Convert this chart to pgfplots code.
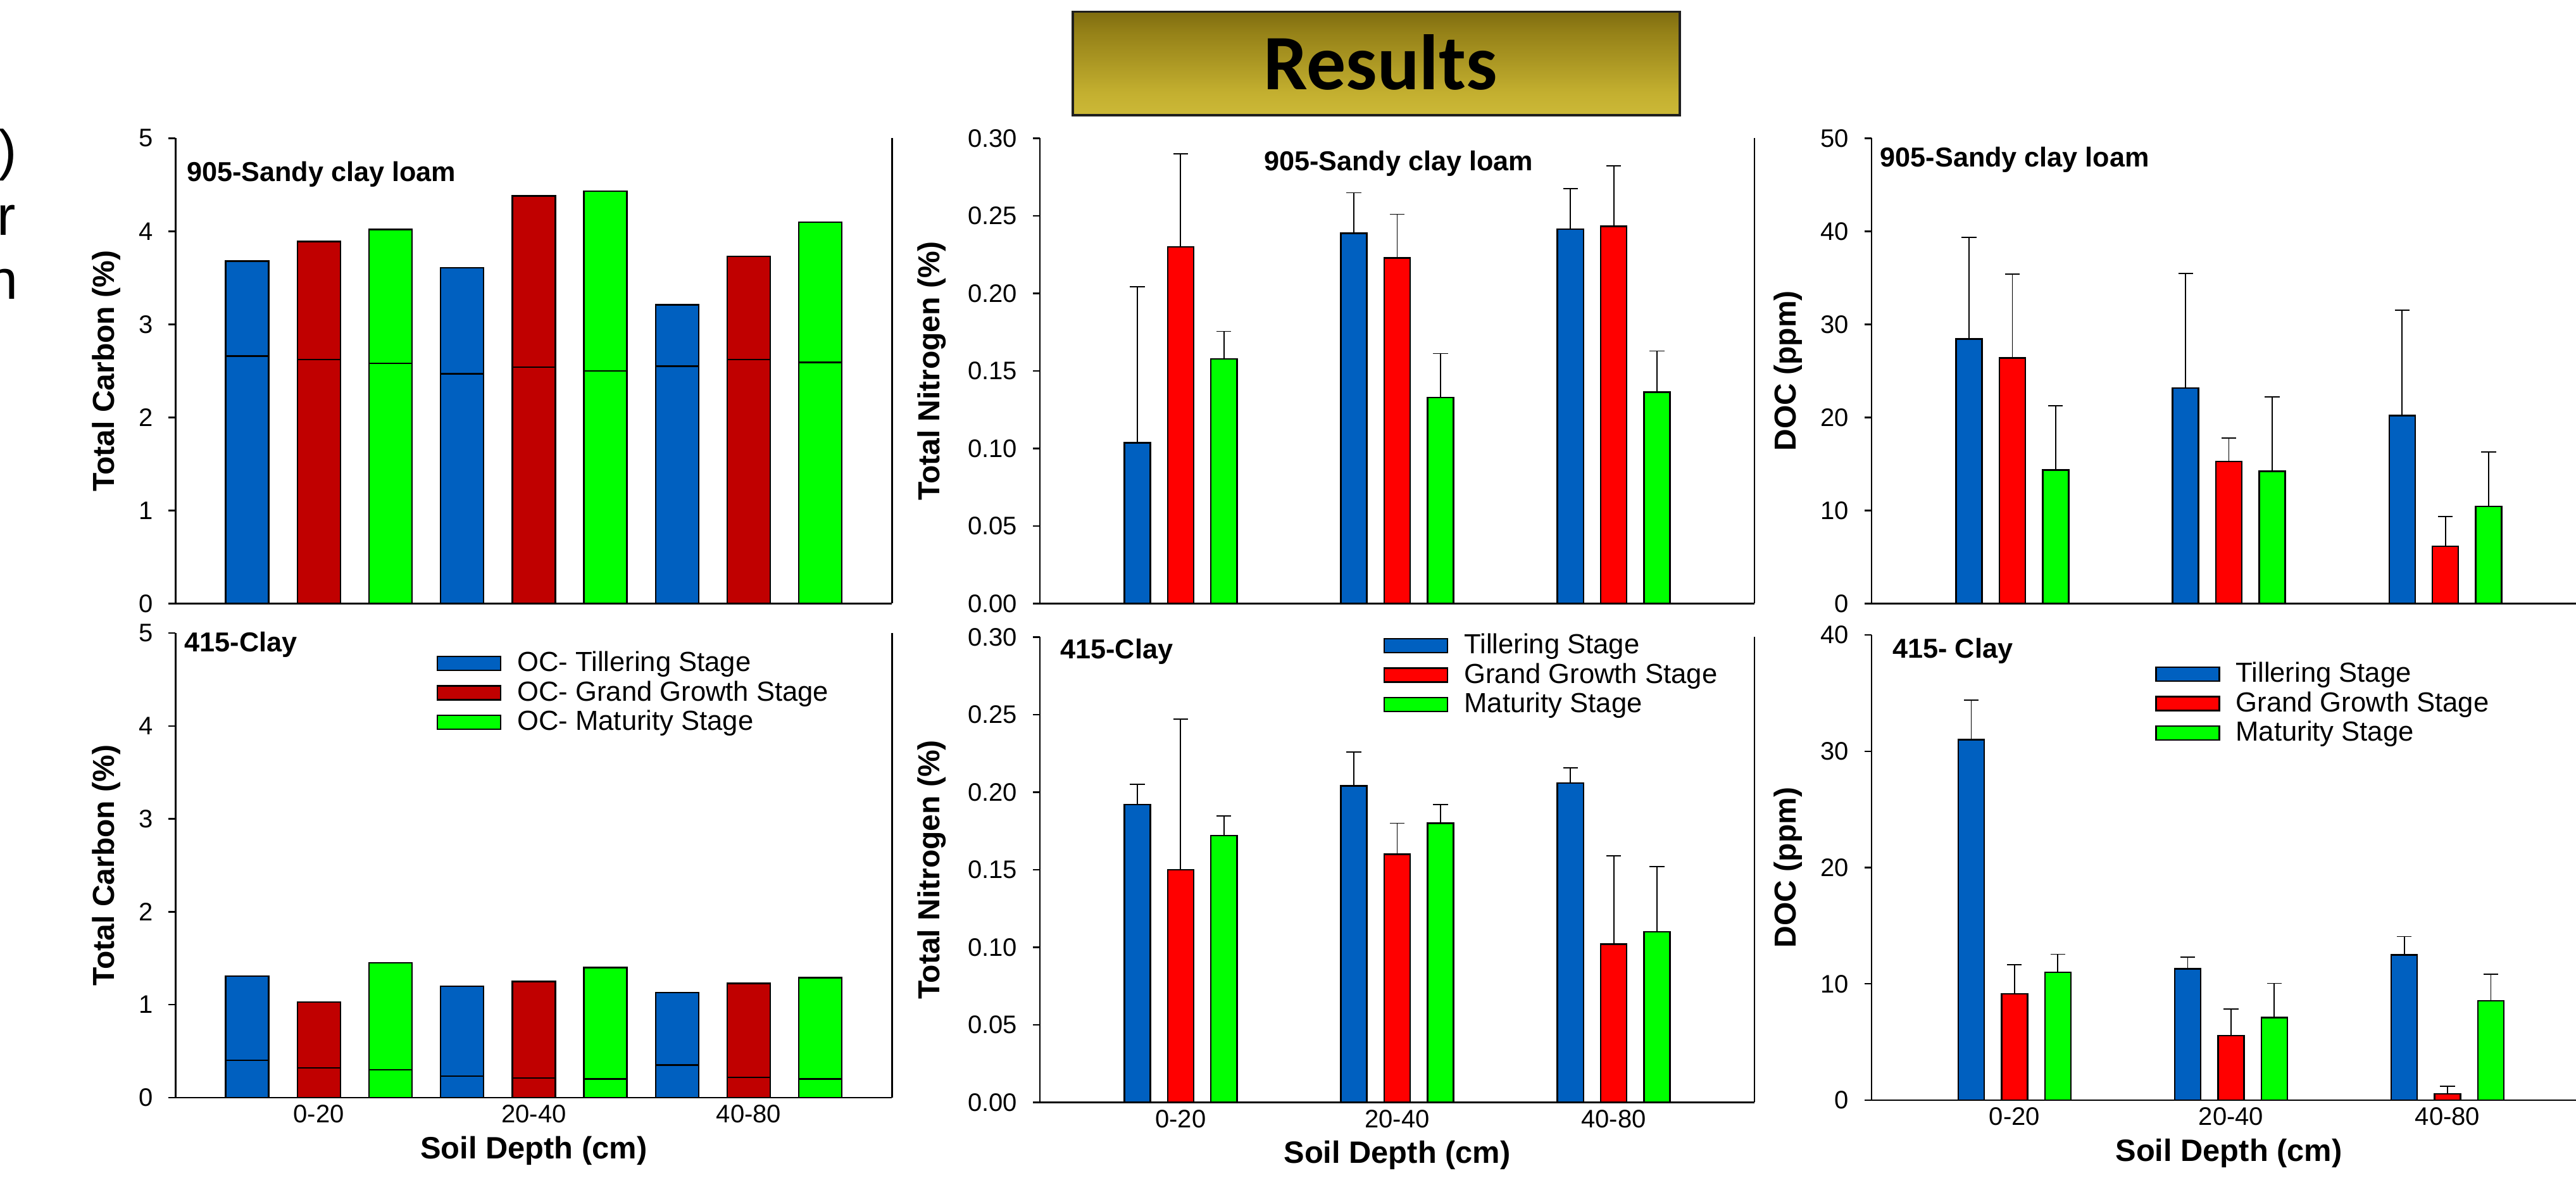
\documentclass[border=0pt]{standalone}
\usepackage{pgfplots}
\pgfplotsset{compat=1.18}
\usepackage{fontspec}
\setmainfont{Liberation Sans}
\newfontfamily\carlito{Carlito}
\definecolor{cblue}{RGB}{0,96,192}
\definecolor{cdred}{RGB}{192,0,0}
\definecolor{cred}{RGB}{255,0,0}
\definecolor{cgreen}{RGB}{0,255,0}
\definecolor{g0}{RGB}{216,197,66}
\definecolor{g1}{RGB}{196,176,48}
\definecolor{g2}{RGB}{150,130,24}
\definecolor{g3}{RGB}{108,90,8}
\definecolor{g4}{RGB}{160,140,40}
\pgfdeclareverticalshading{titlegrad}{100bp}{color(0bp)=(g1); color(8bp)=(g0); color(35bp)=(g1); color(65bp)=(g2); color(85bp)=(g3); color(93bp)=(g3); color(97bp)=(g4); color(100bp)=(g4)}
\pgfplotsset{
  panel/.style={
    scale only axis, height=183.75pt, width=282.25pt,
    anchor=south west,
    axis x line*=bottom, axis y line*=left,
    axis line style={line width=0.7pt, black},
    ymin=0, clip=false,
    tick align=outside,
    major tick length=2.75pt,
    ytick style={line width=0.6pt, black},
    xtick style={draw=none},
    /pgf/number format/assume math mode=true,
    yticklabel style={font=\fontsize{10}{12}\selectfont, anchor=east, inner sep=0pt, xshift=-6pt},
    xticklabel style={font=\fontsize{10}{12}\selectfont, anchor=north, inner sep=0pt},
    every axis y label/.style={rotate=90, anchor=center, font=\bfseries\fontsize{12}{14}\selectfont},
    every axis x label/.style={at={([yshift=-24pt]axis description cs:0.5,0)}, anchor=base, font=\bfseries\fontsize{12.2}{14}\selectfont},
    ybar,
  },
  leg/.style={
    legend style={draw=none, fill=none, inner sep=0pt, outer sep=0pt, row sep=2.2pt,
      cells={anchor=west}, nodes={inner sep=0pt, font=\fontsize{10.9}{12}\selectfont}},
    legend cell align=left,
    legend image code/.code={\draw[##1] (0pt,-2.75pt) rectangle (25pt,2.75pt); \path (31.25pt,0pt);},
  },
  err/.style={error bars/.cd, y dir=plus, y explicit,
    error bar style={line width=0.45pt, black},
    error mark options={rotate=90, black, line width=0.45pt, mark size=2.9pt}},
  cb/.style={fill=cblue, draw=black, line width=0.6pt},
  cdr/.style={fill=cdred, draw=black, line width=0.6pt},
  cr/.style={fill=cred, draw=black, line width=0.6pt},
  cg/.style={fill=cgreen, draw=black, line width=0.6pt},
  wide/.style={bar width=0.6, bar shift=0},
  narrow/.style={bar width=0.12, bar shift=#1},
}
\newcommand{\plab}{\bfseries\fontsize{10.8}{13}\selectfont}
\begin{document}
\begin{tikzpicture}
\path[use as bounding box] (0pt,0pt) rectangle (1017.5pt,-468pt);
\clip (0pt,0pt) rectangle (1017.5pt,-468pt);
\fill[white] (0pt,0pt) rectangle (1017.5pt,-468pt);

% title box
\fill[black!88] (423.25pt,-4.25pt) rectangle (664pt,-46pt);
\shade[shading=titlegrad] (424.25pt,-5.25pt) rectangle (663pt,-45pt);
\node[font=\carlito\bfseries\fontsize{31}{36}\selectfont, anchor=base, inner sep=0pt] at (545.25pt,-35.5pt) {Results};

% cropped slide text at the left edge
\node[anchor=base east, inner sep=0pt, font=\fontsize{22}{26}\selectfont] at (7pt,-67pt) {)};
\node[anchor=base east, inner sep=0pt, font=\fontsize{22}{26}\selectfont] at (6.5pt,-93pt) {r};
\node[anchor=base east, inner sep=0pt, font=\fontsize{22}{26}\selectfont] at (7.25pt,-118.25pt) {n};

% ---------- Top left: Total carbon, 905 ----------
\begin{axis}[panel, at={(69.35pt,-238.35pt)}, width=282.98pt,
  xmin=0, xmax=10, ymax=5, ytick={0,1,2,3,4,5}, xtick=\empty,
  ylabel={Total Carbon (\%)},
  ylabel style={at={([xshift=-27.35pt]axis description cs:0,0.5)}}]
\addplot[cb, wide] coordinates {(1,3.68) (4,3.61) (7,3.21)};
\addplot[cdr, wide] coordinates {(2,3.89) (5,4.38) (8,3.73)};
\addplot[cg, wide] coordinates {(3,4.02) (6,4.43) (9,4.10)};
\addplot[cb, wide] coordinates {(1,2.66) (4,2.47) (7,2.55)};
\addplot[cdr, wide] coordinates {(2,2.62) (5,2.54) (8,2.62)};
\addplot[cg, wide] coordinates {(3,2.58) (6,2.50) (9,2.59)};
\draw[line width=0.7pt] (rel axis cs:1,0) -- (rel axis cs:1,1);
\node[anchor=base west, inner sep=0pt, font=\plab] at (rel axis cs:0.0150,0.908) {905-Sandy clay loam};
\end{axis}

% ---------- Bottom left: Total carbon, 415 ----------
\begin{axis}[panel, leg, at={(69.35pt,-433.5pt)}, width=282.98pt, height=183.5pt,
  xmin=0, xmax=10, ymax=5, ytick={0,1,2,3,4,5},
  xtick={2,5,8}, xticklabels={0-20,20-40,40-80},
  xlabel={Soil Depth (cm)},
  ylabel={Total Carbon (\%)},
  ylabel style={at={([xshift=-27.35pt]axis description cs:0,0.5)}},
  legend style={at={(axis description cs:0.3645,0.960)}, anchor=north west}]
\addplot[cb, wide, forget plot] coordinates {(1,1.31) (4,1.20) (7,1.13)};
\addplot[cdr, wide, forget plot] coordinates {(2,1.03) (5,1.25) (8,1.23)};
\addplot[cg, wide, forget plot] coordinates {(3,1.45) (6,1.40) (9,1.29)};
\addplot[cb, wide] coordinates {(1,0.40) (4,0.23) (7,0.35)};
\addplot[cdr, wide] coordinates {(2,0.32) (5,0.21) (8,0.22)};
\addplot[cg, wide] coordinates {(3,0.30) (6,0.20) (9,0.20)};
\legend{OC- Tillering Stage, OC- Grand Growth Stage, OC- Maturity Stage}
\draw[line width=0.7pt] (rel axis cs:1,0) -- (rel axis cs:1,1);
\node[anchor=base west, inner sep=0pt, font=\plab] at (rel axis cs:0.012,0.960) {415-Clay};
\end{axis}

% ---------- Top middle: Total nitrogen, 905 ----------
\begin{axis}[panel, at={(410.75pt,-238.35pt)},
  xmin=0.35, xmax=3.65, ymax=0.30, ytick={0,0.05,0.10,0.15,0.20,0.25,0.30}, xtick=\empty,
  yticklabel style={/pgf/number format/.cd, fixed, fixed zerofill, precision=2},
  ylabel={Total Nitrogen (\%)},
  ylabel style={at={([xshift=-42.75pt]axis description cs:0,0.5)}}]
\addplot[cb, narrow=-0.2, err] coordinates {(1,0.1037) +- (0,0.1004) (2,0.2388) +- (0,0.0261) (3,0.2414) +- (0,0.0260)};
\addplot[cr, narrow=0, err] coordinates {(1,0.2300) +- (0,0.0601) (2,0.2229) +- (0,0.0281) (3,0.2432) +- (0,0.0390)};
\addplot[cg, narrow=0.2, err] coordinates {(1,0.1578) +- (0,0.0177) (2,0.1328) +- (0,0.0284) (3,0.1363) +- (0,0.0265)};
\draw[line width=0.7pt] (rel axis cs:1,0) -- (rel axis cs:1,1);
\node[anchor=base, inner sep=0pt, font=\plab] at (rel axis cs:0.502,0.931) {905-Sandy clay loam};
\end{axis}

% ---------- Bottom middle: Total nitrogen, 415 ----------
\begin{axis}[panel, leg, at={(410.75pt,-435.35pt)},
  xmin=0.35, xmax=3.65, ymax=0.30, ytick={0,0.05,0.10,0.15,0.20,0.25,0.30},
  yticklabel style={/pgf/number format/.cd, fixed, fixed zerofill, precision=2},
  xtick={1,2,3}, xticklabels={0-20,20-40,40-80},
  xlabel={Soil Depth (cm)},
  ylabel={Total Nitrogen (\%)},
  ylabel style={at={([xshift=-42.75pt]axis description cs:0,0.5)}},
  legend style={at={(axis description cs:0.481,1.007)}, anchor=north west}]
\addplot[cb, narrow=-0.2, err] coordinates {(1,0.192) +- (0,0.013) (2,0.204) +- (0,0.022) (3,0.206) +- (0,0.0098)};
\addplot[cr, narrow=0, err] coordinates {(1,0.150) +- (0,0.097) (2,0.160) +- (0,0.020) (3,0.102) +- (0,0.057)};
\addplot[cg, narrow=0.2, err] coordinates {(1,0.172) +- (0,0.0126) (2,0.180) +- (0,0.012) (3,0.110) +- (0,0.042)};
\legend{Tillering Stage, Grand Growth Stage, Maturity Stage}
\draw[line width=0.7pt] (rel axis cs:1,0) -- (rel axis cs:1,1);
\node[anchor=base west, inner sep=0pt, font=\plab] at (rel axis cs:0.028,0.954) {415-Clay};
\end{axis}

% ---------- Top right: DOC, 905 ----------
\begin{axis}[panel, at={(739.25pt,-238.35pt)},
  xmin=0.35, xmax=3.65, ymax=50, ytick={0,10,20,30,40,50}, xtick=\empty,
  ylabel={DOC (ppm)},
  ylabel style={at={([xshift=-33.1pt]axis description cs:0,0.5)}}]
\addplot[cb, narrow=-0.2, err] coordinates {(1,28.43) +- (0,10.91) (2,23.14) +- (0,12.33) (3,20.19) +- (0,11.32)};
\addplot[cr, narrow=0, err] coordinates {(1,26.39) +- (0,9.00) (2,15.28) +- (0,2.49) (3,6.16) +- (0,3.20)};
\addplot[cg, narrow=0.2, err] coordinates {(1,14.36) +- (0,6.87) (2,14.20) +- (0,7.99) (3,10.44) +- (0,5.84)};
\draw[line width=0.7pt] (rel axis cs:1,0) -- (rel axis cs:1,1);
\node[anchor=base west, inner sep=0pt, font=\plab] at (rel axis cs:0.0115,0.938) {905-Sandy clay loam};
\end{axis}

% ---------- Bottom right: DOC, 415 ----------
\begin{axis}[panel, leg, at={(739.25pt,-434.5pt)},
  xmin=0.34, xmax=3.64, ymax=40, ytick={0,10,20,30,40},
  xtick={1,2,3}, xticklabels={0-20,20-40,40-80},
  xlabel={Soil Depth (cm)},
  ylabel={DOC (ppm)},
  ylabel style={at={([xshift=-33.1pt]axis description cs:0,0.5)}},
  legend style={at={(axis description cs:0.397,0.941)}, anchor=north west}]
\addplot[cb, narrow=-0.2, err] coordinates {(1,31.0) +- (0,3.4) (2,11.29) +- (0,0.99) (3,12.50) +- (0,1.57)};
\addplot[cr, narrow=0, err] coordinates {(1,9.15) +- (0,2.5) (2,5.55) +- (0,2.27) (3,0.55) +- (0,0.64)};
\addplot[cg, narrow=0.2, err] coordinates {(1,10.98) +- (0,1.56) (2,7.10) +- (0,2.94) (3,8.54) +- (0,2.30)};
\legend{Tillering Stage, Grand Growth Stage, Maturity Stage}
\draw[line width=0.7pt] (rel axis cs:1,0) -- (rel axis cs:1,1);
\node[anchor=base west, inner sep=0pt, font=\plab] at (rel axis cs:0.029,0.950) {415- Clay};
\end{axis}
\end{tikzpicture}
\end{document}
